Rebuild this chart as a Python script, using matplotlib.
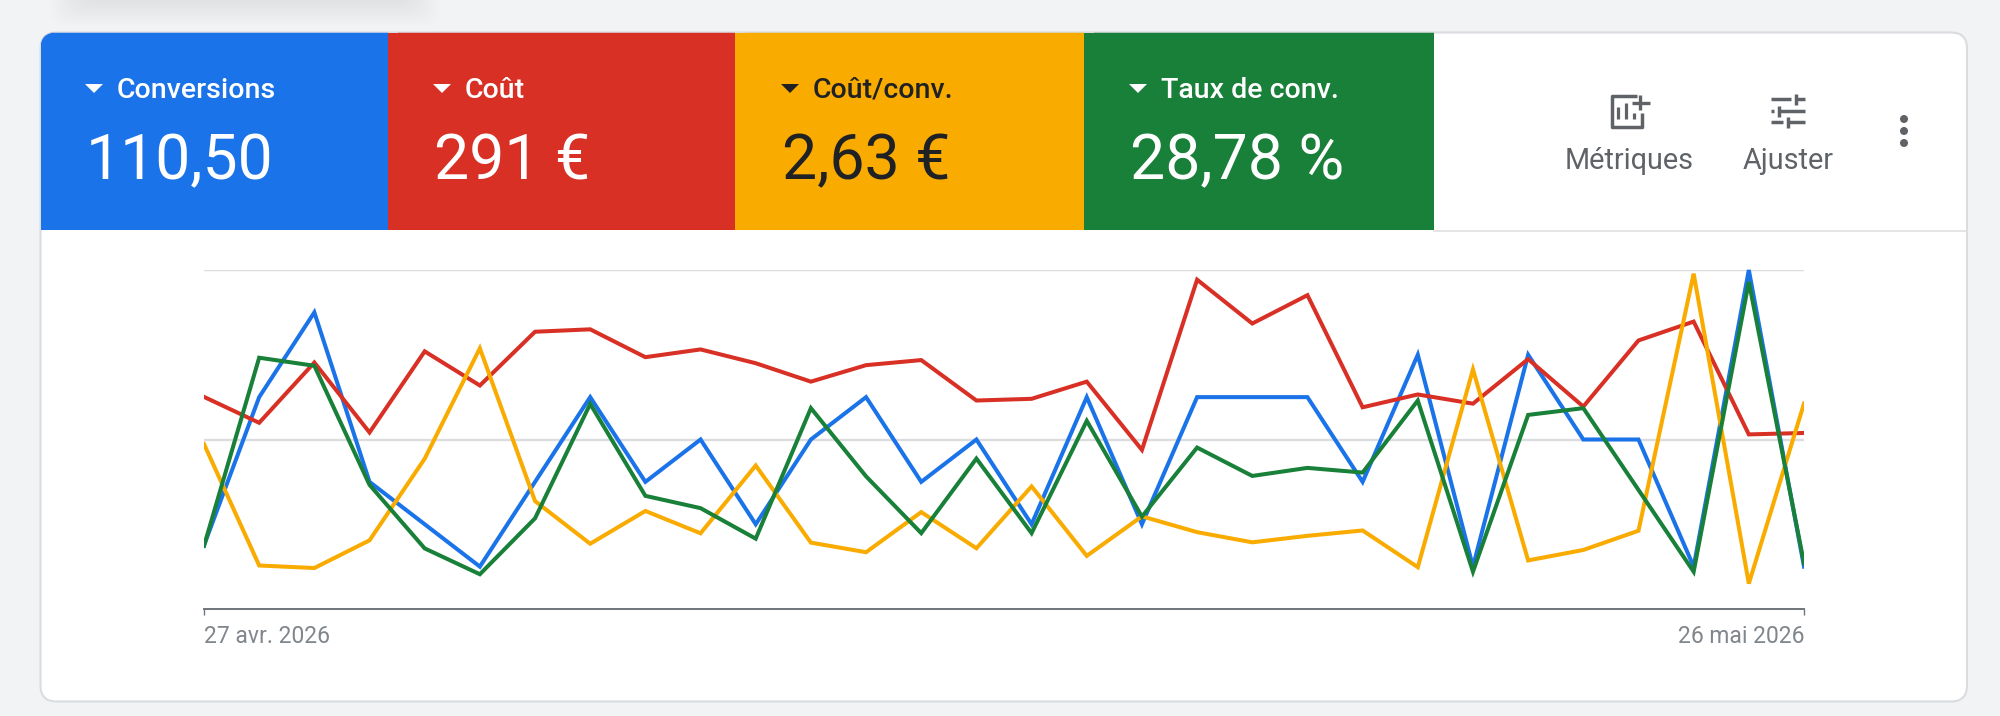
import matplotlib
matplotlib.use("Agg")
import matplotlib.pyplot as plt
from matplotlib.patches import FancyBboxPatch, Rectangle, Polygon, Circle

plt.rcParams["font.family"] = ["Roboto", "DejaVu Sans"]

# daily series, 27 avr. -> 26 mai 2026
n_days = 30
days = list(range(n_days))
date_labels = ["27 avr. 2026", "26 mai 2026"]

conversions = [1.5, 5, 7, 3, 2, 1, 3, 5, 3, 4, 2, 4, 5, 3, 4, 2, 5, 2, 5, 5, 5, 3, 6, 1, 6, 4, 4, 1, 8, 1]
cost = [8.76, 7.69, 10.18, 7.29, 10.64, 9.23, 11.45, 11.55, 10.40, 10.72, 10.15, 9.39, 10.07, 10.28, 8.61,
        8.68, 9.39, 6.57, 13.60, 11.79, 12.96, 8.33, 8.86, 8.48, 10.32, 8.36, 11.09, 11.87, 7.21, 7.27]
cost_per_conv = [5.84, 1.54, 1.45, 2.43, 5.32, 9.23, 3.82, 2.31, 3.47, 2.68, 5.08, 2.35, 2.01, 3.43, 2.15,
                 4.34, 1.88, 3.28, 2.72, 2.36, 2.59, 2.78, 1.48, 8.48, 1.72, 2.09, 2.77, 11.87, 0.90, 7.27]
conv_rate = [14.9, 59.3, 57.4, 29.3, 14.3, 8.2, 21.4, 48.4, 26.7, 23.8, 16.6, 47.4, 31.3, 17.9, 35.5,
             17.9, 44.4, 21.8, 38.1, 31.4, 33.3, 32.2, 49.2, 8.8, 45.8, 47.4, 28.1, 8.8, 77.2, 10.8]

metric_names = ["Conversions", "Coût", "Coût/conv.", "Taux de conv."]
metric_values = ["110,50", "291 €", "2,63 €", "28,78 %"]
metric_colors = ["#1a73e8", "#d93025", "#f9ab00", "#188038"]
metric_text = ["white", "white", "#202124", "white"]
series = [conversions, cost, cost_per_conv, conv_rate]
axis_tops = [8, 14, 12, 80]

W, H = 2000, 716
fig = plt.figure(figsize=(W / 100, H / 100), dpi=100, facecolor="#f1f3f5")

# background layer in pixel coordinates
bg = fig.add_axes([0, 0, 1, 1])
bg.set_xlim(0, W)
bg.set_ylim(H, 0)
bg.axis("off")

# blurred shadow of something above the card
for i in range(24):
    bg.add_patch(FancyBboxPatch((50 + i * 2, -60), 390 - i * 4, 86 - i * 1.5,
                                boxstyle="round,pad=0,rounding_size=16",
                                fc="#000000", ec="none", alpha=0.0045))

card = FancyBboxPatch((40.5, 32.5), 1926.5, 669, boxstyle="round,pad=0,rounding_size=16",
                      fc="white", ec="#dadce0", lw=1.5)
bg.add_patch(card)

edges = [41, 388, 735, 1084, 1434]
text_x = [41, 389, 737, 1085]
for i in range(4):
    r = Rectangle((edges[i], 33), edges[i + 1] - edges[i], 197, fc=metric_colors[i], ec="none")
    r.set_clip_path(card)
    bg.add_patch(r)
    # faint tint along the top edge of the tile
    bg.add_patch(Rectangle((edges[i] + 10, 31.5), edges[i + 1] - edges[i] - 10, 1.5,
                           fc=metric_colors[i], ec="none", alpha=0.22))
    x0 = text_x[i]
    tc = metric_text[i]
    bg.add_patch(Polygon([(x0 + 44, 84), (x0 + 62, 84), (x0 + 53, 93)], fc=tc, ec="none"))
    bg.text(x0 + 76, 87, metric_names[i], color=tc, fontsize=20.5, fontweight="medium",
            va="center_baseline", ha="left")
    bg.text(x0 + 45, 156, metric_values[i], color=tc, fontsize=45, va="center_baseline", ha="left")
bg.plot([1434, 1967], [230.5, 230.5], color="#e0e0e0", lw=1.2)

# metrics button
grey = "#5f6368"
bg.plot([1637, 1611.5, 1611.5, 1642, 1642], [95.5, 95.5, 126.5, 126.5, 113], color=grey, lw=2.5,
        solid_joinstyle="round", solid_capstyle="butt")
bg.plot([1632, 1650], [102.7, 102.7], color=grey, lw=2.4, solid_capstyle="butt")
bg.plot([1640, 1640], [95, 110], color=grey, lw=2.4, solid_capstyle="butt")
for bx, btop in zip([1618, 1626, 1634], [107, 103, 113]):
    bg.plot([bx, bx], [btop, 119], color=grey, lw=2.3, solid_capstyle="butt")

# adjust button, knobs sit on the right part of each row
for yy, kx in [(99.3, 1795.7), (111, 1779), (122.3, 1787.7)]:
    bg.plot([1770.7, kx - 5], [yy, yy], color=grey, lw=2.5, solid_capstyle="butt")
    bg.plot([kx, 1805], [yy, yy], color=grey, lw=2.5, solid_capstyle="butt")
    bg.plot([kx, kx], [yy - 5.5, yy + 5.5], color=grey, lw=2.5, solid_capstyle="butt")

bg.text(1629, 158, "Métriques", color=grey, fontsize=20.8, ha="center", va="center_baseline")
bg.text(1788, 158, "Ajuster", color=grey, fontsize=20.8, ha="center", va="center_baseline")
for yy in [119, 131, 143]:
    bg.add_patch(Circle((1904, yy), 4, fc=grey, ec="none"))

# chart, one y scale per metric
ax = fig.add_axes([204 / W, 1 - 609 / H, 1600 / W, 339 / H])
ax.patch.set_alpha(0)
ax.set_xlim(0, n_days - 1)
ax.set_ylim(0, 1)
ax.set_yticks([0.5, 1])
ax.set_yticklabels([])
ax.tick_params(axis="y", length=0)
ax.grid(axis="y", color="#dadce0", lw=1.7)
ax.set_axisbelow(True)
for s in ["top", "left", "right"]:
    ax.spines[s].set_visible(False)
ax.spines["bottom"].set_color("#70757a")
ax.spines["bottom"].set_linewidth(1.4)
ax.set_xticks([0, n_days - 1])
ax.set_xticklabels(date_labels, fontsize=16.5, color="#80868b")
ax.tick_params(axis="x", length=4.5, width=1, color="#70757a", pad=7)
ax.get_xticklabels()[0].set_ha("left")
ax.get_xticklabels()[1].set_ha("right")

for vals, top, col in zip(series, axis_tops, metric_colors):
    tw = ax.twinx()
    tw.set_ylim(0, top)
    tw.axis("off")
    line, = tw.plot(days, vals, color=col, lw=2.9, solid_joinstyle="miter")
    # let the peaks pass over the top gridline, only cut left and right
    line.set_clip_path(Rectangle((0, -0.1), 1, 1.2, transform=tw.transAxes))

fig.savefig("out.png", dpi=100, facecolor=fig.get_facecolor())
